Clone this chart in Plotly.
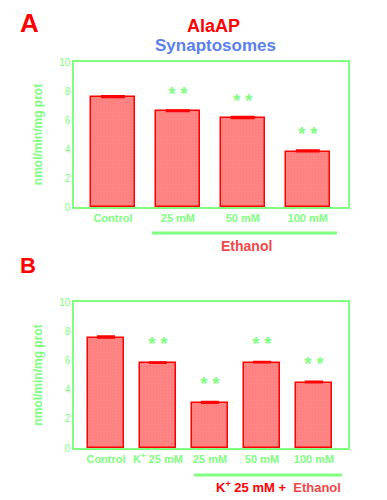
import plotly.graph_objects as go

# ---------- data ----------
cats_a = ["Control", "25 mM", "50 mM", "100 mM"]
vals_a = [7.57, 6.6, 6.12, 3.82]
errs_a = [0.08, 0.07, 0.1, 0.1]
sig_a = ["", "* *", "* *", "* *"]

cats_b = ["Control", "K<sup>+</sup> 25 mM", "25 mM", "50 mM", "100 mM"]
vals_b = [7.55, 5.82, 3.08, 5.85, 4.48]
errs_b = [0.1, 0.06, 0.08, 0.05, 0.08]
sig_b = ["", "* *", "* *", "* *", "* *"]

y_ticks = [0, 2, 4, 6, 8, 10]

GREEN = "#80ff80"
RED = "#ff0000"
FILL = "#ff8585"
FONT = "Liberation Sans"

# page body has an 8px default margin; figure fits inside the window
OFF = 8
W, H = 387 - OFF, 500 - OFF


def px_x(p):
    return (p - OFF) / W


def px_y(p):
    return 1 - (p - OFF) / H


fig = go.Figure()

xa = list(range(len(cats_a)))
xb = list(range(len(cats_b)))


def add_panel(xs, vals, errs, sig, xax, yax, bw, capw, off):
    fig.add_trace(go.Bar(
        x=xs, y=vals, xaxis=xax, yaxis=yax, width=bw,
        marker=dict(color=FILL, line=dict(color=RED, width=1.5),
                    pattern=dict(shape=".", size=3, solidity=0.15, fgcolor="#ff6a6a")),
        error_y=dict(type="data", symmetric=False, array=errs, arrayminus=[0] * len(errs),
                     color=RED, thickness=2, width=capw),
        showlegend=False,
    ))
    idx = [i for i, s in enumerate(sig) if s]
    fig.add_trace(go.Scatter(
        x=[xs[i] for i in idx], y=[vals[i] + off for i in idx], text=[sig[i] for i in idx],
        mode="text", xaxis=xax, yaxis=yax,
        textfont=dict(family=FONT, size=18, color=GREEN, weight="bold"), showlegend=False,
    ))


add_panel(xa, vals_a, errs_a, sig_a, "x", "y", 0.68, 12, 1.1)
add_panel(xb, vals_b, errs_b, sig_b, "x2", "y2", 0.69, 9, 1.2)

axis_common = dict(showgrid=False, zeroline=False, showline=True, mirror=True,
                   linecolor=GREEN, linewidth=1.5, automargin=False)
tickfont = dict(family=FONT, size=10, color=GREEN)
catfont = dict(family=FONT, size=11, color=GREEN, weight="bold")
ytitle = dict(text="nmol/min/mg prot", standoff=14,
              font=dict(family=FONT, size=12, color=GREEN, weight="bold"))

fig.update_layout(
    width=W, height=H, margin=dict(l=0, r=0, t=0, b=0),
    paper_bgcolor="white", plot_bgcolor="white",
    bargap=0,
    xaxis=dict(domain=[px_x(74), px_x(348)], anchor="y", range=[-0.6, 3.62],
               tickvals=xa, ticktext=cats_a, tickfont=catfont, ticks="", **axis_common),
    yaxis=dict(domain=[px_y(207), px_y(62)], anchor="x", range=[0, 10],
               tickvals=y_ticks, tickfont=tickfont, ticks="", title=ytitle, **axis_common),
    xaxis2=dict(domain=[px_x(74), px_x(348)], anchor="y2", range=[-0.615, 4.655],
                tickvals=xb, ticktext=cats_b, tickfont=catfont, ticks="", **axis_common),
    yaxis2=dict(domain=[px_y(448), px_y(302)], anchor="x2", range=[0, 10],
                tickvals=y_ticks, tickfont=tickfont, ticks="", title=ytitle, **axis_common),
)

shapes = [
    dict(type="line", xref="paper", yref="paper", x0=px_x(152), x1=px_x(337),
         y0=px_y(233), y1=px_y(233), line=dict(color=GREEN, width=3)),
    dict(type="line", xref="paper", yref="paper", x0=px_x(194), x1=px_x(342),
         y0=px_y(475), y1=px_y(475), line=dict(color=GREEN, width=3)),
]
fig.update_layout(shapes=shapes)

annotations = [
    dict(text="A", x=px_x(29), y=px_y(23), font=dict(family=FONT, size=26, color=RED, weight="bold")),
    dict(text="B", x=px_x(28), y=px_y(265), font=dict(family=FONT, size=22, color=RED, weight="bold")),
    dict(text="AlaAP", x=px_x(213), y=px_y(26), font=dict(family=FONT, size=18, color=RED, weight="bold")),
    dict(text="Synaptosomes", x=px_x(215), y=px_y(45), font=dict(family=FONT, size=17, color="#5b7ff0", weight="bold")),
    dict(text="Ethanol", x=px_x(246), y=px_y(246), font=dict(family=FONT, size=14, color="#f04848", weight="bold")),
    dict(text="<span style='color:#ff0000'>K<sup>+</sup> 25 mM +</span>  <span style='color:#f04848'>Ethanol</span>",
         x=px_x(278), y=px_y(487), font=dict(family=FONT, size=13, color=RED, weight="bold")),
]
for a in annotations:
    a.update(xref="paper", yref="paper", showarrow=False, xanchor="center", yanchor="middle")
fig.update_layout(annotations=annotations)

fig.write_html("out.html")
